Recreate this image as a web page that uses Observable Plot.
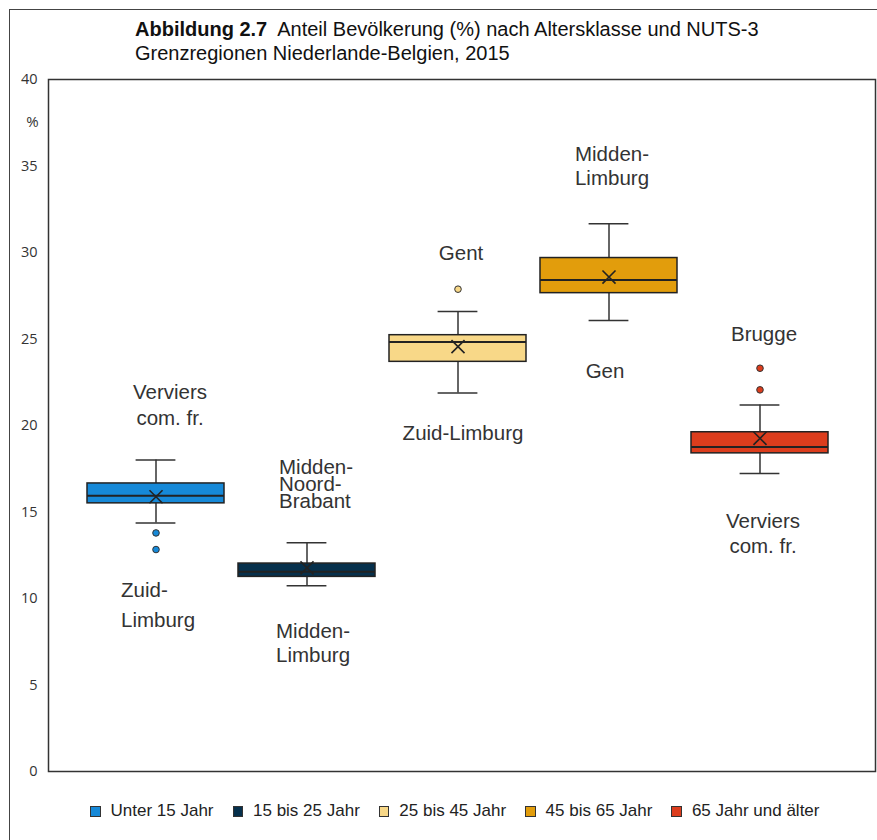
<!DOCTYPE html>
<html>
<head>
<meta charset="utf-8">
<script src="https://cdn.jsdelivr.net/npm/d3@7"></script>
<script src="https://cdn.jsdelivr.net/npm/@observablehq/plot@0.6"></script>
<style>
  html, body { margin: 0; padding: 0; background: #fff; }
  #wrap { position: relative; width: 877px; height: 840px; overflow: hidden; font-family: "Liberation Sans", Arial, sans-serif; }
  #outer { position: absolute; left: 9px; top: 9px; right: -5px; bottom: -5px; border-left: 1.5px solid #444; border-top: 1.5px solid #444; }
  #title { position: absolute; left: 135px; top: 17px; font-size: 20px; line-height: 24px; color: #111; white-space: nowrap; }
  #title b { font-weight: bold; }
  #legend { position: absolute; left: 90px; top: 801px; display: flex; gap: 19px; font-size: 17px; line-height: 20px; color: #222; white-space: nowrap; }
  .item { display: flex; align-items: center; gap: 10px; }
  .sw { width: 8.5px; height: 9px; border: 1.5px solid #333; }
  #chart { position: absolute; left: 0; top: 0; }
</style>
</head>
<body>
<div id="wrap">
  <div id="outer"></div>
  <div id="chart"></div>
  <div id="title"><b>Abbildung 2.7</b>&nbsp; Anteil Bevölkerung (%) nach Altersklasse und NUTS-3<br>Grenzregionen Niederlande-Belgien, 2015</div>
  <div id="legend"></div>
</div>
<script>
const categories = ["Unter 15 Jahr", "15 bis 25 Jahr", "25 bis 45 Jahr", "45 bis 65 Jahr", "65 Jahr und älter"];
const colors = ["#1689d8", "#06304c", "#f8d888", "#e29d0c", "#dc3d1d"];
const whiskerLow  = [14.37, 10.73, 21.88, 26.07, 17.23];
const q1          = [15.50, 11.25, 23.68, 27.65, 18.39];
const median      = [15.94, 11.54, 24.83, 28.41, 18.76];
const q3          = [16.65, 12.02, 25.22, 29.68, 19.61];
const whiskerHigh = [18.00, 13.22, 26.59, 31.66, 21.19];
const mean        = [15.88, 11.77, 24.56, 28.58, 19.26];
const outlierCategory = ["Unter 15 Jahr", "Unter 15 Jahr", "25 bis 45 Jahr", "65 Jahr und älter", "65 Jahr und älter"];
const outlierValue    = [13.79, 12.83, 27.88, 23.31, 22.06];
const yTicks = [0, 5, 10, 15, 20, 25, 30, 35, 40];
// annotations (NUTS-3 region names): category, level in %, text
const labelCategory = ["Unter 15 Jahr", "Unter 15 Jahr", "15 bis 25 Jahr", "15 bis 25 Jahr",
  "25 bis 45 Jahr", "25 bis 45 Jahr", "45 bis 65 Jahr", "45 bis 65 Jahr",
  "65 Jahr und älter", "65 Jahr und älter"];
const labelValue = [21.28, 9.77, 16.53, 7.46, 29.94, 19.54, 35.03, 23.12, 25.26, 13.79];
const labelText = ["Verviers\ncom. fr.", "Zuid-\nLimburg", "Midden-\nNoord-\nBrabant", "Midden-\nLimburg",
  "Gent", "Zuid-Limburg", "Midden-\nLimburg", "Gen", "Brugge", "Verviers\ncom. fr."];
const labelAlign = ["middle", "start", "start", "start", "middle", "middle", "middle", "middle", "middle", "middle"];
const labelShift = [14, -35, -28, -31, 3, 5, 3, -4, 4, 3];
const labelLeading = [1.27, 1.46, 0.83, 1.17, 1, 1, 1.17, 1, 1, 1.22];

const boxes = categories.map((c, i) => ({
  cat: c, lo: whiskerLow[i], q1: q1[i], med: median[i], q3: q3[i], hi: whiskerHigh[i], mean: mean[i]
}));
const outliers = outlierCategory.map((c, i) => ({cat: c, v: outlierValue[i]}));
const labels = labelText.map((t, i) => ({cat: labelCategory[i], v: labelValue[i], t, a: labelAlign[i], dx: labelShift[i], lh: labelLeading[i]}));

const capInset = 48.6;
const font = "Liberation Sans, Arial, sans-serif";

const chart = Plot.plot({
  width: 877,
  height: 840,
  marginLeft: 48,
  marginRight: 2,
  marginTop: 79,
  marginBottom: 69,
  style: {background: "transparent", fontFamily: "Open Sans, sans-serif", fontSize: "14.5px", color: "#333"},
  x: {type: "band", domain: categories, paddingInner: 0.092, paddingOuter: 0.28, align: 0.459, axis: null},
  y: {domain: [0, 40], ticks: yTicks, tickSize: 0, tickPadding: 11, label: null},
  color: {domain: categories, range: colors},
  marks: [
    Plot.frame({stroke: "#333", strokeWidth: 1.5}),
    Plot.ruleX(boxes, {x: "cat", y1: "lo", y2: "hi", stroke: "#333", strokeWidth: 1.5}),
    Plot.tickY(boxes, {x: "cat", y: "lo", stroke: "#333", strokeWidth: 1.5, insetLeft: capInset, insetRight: capInset}),
    Plot.tickY(boxes, {x: "cat", y: "hi", stroke: "#333", strokeWidth: 1.5, insetLeft: capInset, insetRight: capInset}),
    Plot.barY(boxes, {x: "cat", y1: "q1", y2: "q3", fill: "cat", stroke: "#222", strokeWidth: 1.5}),
    Plot.tickY(boxes, {x: "cat", y: "med", stroke: "#222", strokeWidth: 2}),
    Plot.dot(boxes, {x: "cat", y: "mean", symbol: "times", r: 6, stroke: "#222", strokeWidth: 1.6}),
    Plot.dot(outliers, {x: "cat", y: "v", fill: "cat", stroke: "#333", strokeWidth: 1, r: 3.3}),
    ...labels.map(d => Plot.text([d], {
      x: "cat", y: "v", text: "t", textAnchor: d.a, dx: d.dx, lineHeight: d.lh,
      fontSize: 20.5, fill: "#333", fontFamily: font
    })),
    Plot.text(["%"], {frameAnchor: "top-left", textAnchor: "middle", lineAnchor: "middle", dx: -16, dy: 43, fontSize: 15, fill: "#333"})
  ]
});
document.getElementById("chart").appendChild(chart);

const legend = document.getElementById("legend");
categories.forEach((c, i) => {
  const it = document.createElement("div");
  it.className = "item";
  const sw = document.createElement("div");
  sw.className = "sw";
  sw.style.background = colors[i];
  const tx = document.createElement("span");
  tx.textContent = c;
  it.appendChild(sw); it.appendChild(tx);
  legend.appendChild(it);
});
</script>
</body>
</html>
